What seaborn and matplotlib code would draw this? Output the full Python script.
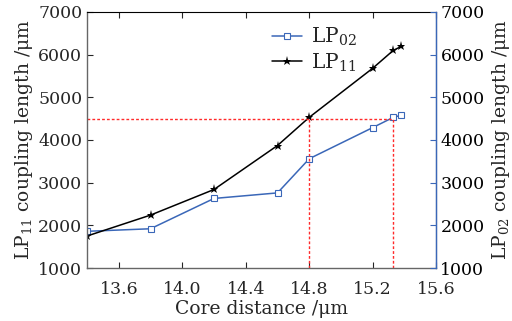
import numpy as np
import pandas as pd
import seaborn as sns
import matplotlib.pyplot as plt

# values
core_distance = [13.4, 13.8, 14.2, 14.6, 14.8, 15.2, 15.33, 15.38]
lp11_length = [1750, 2240, 2840, 3870, 4530, 5680, 6100, 6190]
lp02_length = [1860, 1920, 2630, 2760, 3560, 4290, 4530, 4580]
ref_length = 4500
ref_distances = [14.8, 15.33]
x_ticks = [13.6, 14.0, 14.4, 14.8, 15.2, 15.6]
y_ticks = [1000, 2000, 3000, 4000, 5000, 6000, 7000]

df = pd.DataFrame({"d": core_distance, "LP11": lp11_length, "LP02": lp02_length})

sns.set_style("ticks")
plt.rcParams['font.family'] = ['DejaVu Serif']
plt.rcParams['mathtext.fontset'] = 'dejavuserif'

blue = "#3a67b8"
fig = plt.figure(figsize=(5.12, 3.21), dpi=100)
ax = fig.add_axes([0.170, 0.165, 0.682, 0.798])
ax2 = ax.twinx()

sns.lineplot(data=df, x="d", y="LP02", ax=ax, color=blue, marker="s", markersize=4,
             markerfacecolor="white", markeredgecolor=blue, markeredgewidth=0.8,
             linewidth=1.1, label="LP$_{02}$", legend=False)
sns.lineplot(data=df, x="d", y="LP11", ax=ax, color="black", marker="*", markersize=6.5,
             markeredgewidth=0, linewidth=1.1, label="LP$_{11}$", legend=False)

# red reference lines
red_style = dict(color="#ff2a2a", ls=(0, (2, 1.5)), lw=1.0)
ax.plot([13.4, ref_distances[1]], [ref_length, ref_length], **red_style)
for rd in ref_distances:
    ax.plot([rd, rd], [1000, ref_length], **red_style)

ax.set_xlim(13.4, 15.6)
ax.set_ylim(1000, 7000)
ax2.set_ylim(1000, 7000)
ax.set_xticks(x_ticks)
ax.set_xticklabels([f"{t:.1f}" for t in x_ticks])
ax.set_yticks(y_ticks)
ax2.set_yticks(y_ticks)

ax.set_xlabel("Core distance /μm", fontsize=13.5, labelpad=2)
ax.set_ylabel("LP$_{11}$ coupling length /μm", fontsize=13.5, labelpad=2)
ax2.set_ylabel("LP$_{02}$ coupling length /μm", fontsize=13.5, labelpad=4)

ax.tick_params(axis="both", direction="in", labelsize=12.5, length=4, width=0.8, top=True)
ax.tick_params(axis="x", pad=9)
ax2.tick_params(axis="y", direction="in", labelsize=12.5, length=4, width=0.8,
                colors="black", pad=3)
ax2.tick_params(axis="y", color=blue)

for s in ["left", "bottom"]:
    ax.spines[s].set_color("#666666")
    ax.spines[s].set_linewidth(1.0)
ax.spines["top"].set_color("black")
ax2.spines["right"].set_color(blue)
ax2.spines["right"].set_linewidth(1.0)
for s in ["left", "bottom", "top"]:
    ax2.spines[s].set_visible(False)

ax.legend(loc="upper left", bbox_to_anchor=(0.49, 1.0), frameon=False, fontsize=14.5,
          handlelength=1.5, handletextpad=0.4, labelspacing=0.15, borderaxespad=0.3)

fig.savefig("out.png", dpi=100)
